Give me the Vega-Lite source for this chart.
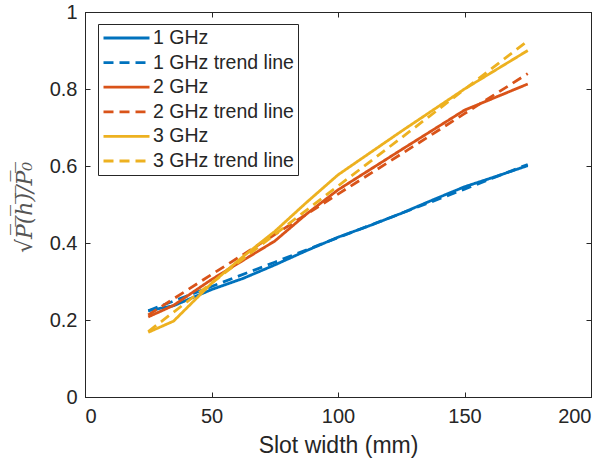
{
  "$schema": "https://vega.github.io/schema/vega-lite/v6.json",
  "width": 506,
  "height": 385,
  "autosize": "none",
  "padding": {"left": 85, "top": 12, "right": 20, "bottom": 69},
  "background": "white",
  "config": {
    "view": {"stroke": "#262626", "strokeWidth": 1},
    "axis": {
      "grid": false,
      "domainColor": "#262626",
      "tickColor": "#262626",
      "labelColor": "#262626",
      "titleColor": "#262626",
      "labelFont": "Liberation Sans",
      "titleFont": "Liberation Sans",
      "labelFontSize": 20,
      "titleFontSize": 23,
      "titleFontWeight": "normal",
      "tickSize": -5,
      "labelPadding": 14
    }
  },
  "data": {
    "values": [
      {"x": 25, "y": 0.224, "s": "1 GHz"},
      {"x": 35, "y": 0.237, "s": "1 GHz"},
      {"x": 50, "y": 0.279, "s": "1 GHz"},
      {"x": 62.5, "y": 0.308, "s": "1 GHz"},
      {"x": 75, "y": 0.343, "s": "1 GHz"},
      {"x": 87.5, "y": 0.38, "s": "1 GHz"},
      {"x": 100, "y": 0.415, "s": "1 GHz"},
      {"x": 112.5, "y": 0.445, "s": "1 GHz"},
      {"x": 125, "y": 0.477, "s": "1 GHz"},
      {"x": 137.5, "y": 0.512, "s": "1 GHz"},
      {"x": 150, "y": 0.546, "s": "1 GHz"},
      {"x": 162.5, "y": 0.573, "s": "1 GHz"},
      {"x": 175, "y": 0.601, "s": "1 GHz"},
      {"x": 25, "y": 0.224, "s": "1 GHz trend line"},
      {"x": 50, "y": 0.287, "s": "1 GHz trend line"},
      {"x": 75, "y": 0.35, "s": "1 GHz trend line"},
      {"x": 100, "y": 0.414, "s": "1 GHz trend line"},
      {"x": 125, "y": 0.477, "s": "1 GHz trend line"},
      {"x": 150, "y": 0.54, "s": "1 GHz trend line"},
      {"x": 175, "y": 0.604, "s": "1 GHz trend line"},
      {"x": 25, "y": 0.208, "s": "2 GHz"},
      {"x": 35, "y": 0.238, "s": "2 GHz"},
      {"x": 50, "y": 0.305, "s": "2 GHz"},
      {"x": 62.5, "y": 0.355, "s": "2 GHz"},
      {"x": 75, "y": 0.405, "s": "2 GHz"},
      {"x": 87.5, "y": 0.475, "s": "2 GHz"},
      {"x": 100, "y": 0.538, "s": "2 GHz"},
      {"x": 125, "y": 0.642, "s": "2 GHz"},
      {"x": 150, "y": 0.745, "s": "2 GHz"},
      {"x": 175, "y": 0.813, "s": "2 GHz"},
      {"x": 25, "y": 0.213, "s": "2 GHz trend line"},
      {"x": 50, "y": 0.318, "s": "2 GHz trend line"},
      {"x": 75, "y": 0.422, "s": "2 GHz trend line"},
      {"x": 100, "y": 0.527, "s": "2 GHz trend line"},
      {"x": 125, "y": 0.631, "s": "2 GHz trend line"},
      {"x": 150, "y": 0.736, "s": "2 GHz trend line"},
      {"x": 175, "y": 0.84, "s": "2 GHz trend line"},
      {"x": 25, "y": 0.168, "s": "3 GHz"},
      {"x": 35, "y": 0.197, "s": "3 GHz"},
      {"x": 50, "y": 0.295, "s": "3 GHz"},
      {"x": 62.5, "y": 0.365, "s": "3 GHz"},
      {"x": 75, "y": 0.43, "s": "3 GHz"},
      {"x": 87.5, "y": 0.505, "s": "3 GHz"},
      {"x": 100, "y": 0.577, "s": "3 GHz"},
      {"x": 125, "y": 0.69, "s": "3 GHz"},
      {"x": 150, "y": 0.8, "s": "3 GHz"},
      {"x": 175, "y": 0.9, "s": "3 GHz"},
      {"x": 25, "y": 0.17, "s": "3 GHz trend line"},
      {"x": 50, "y": 0.296, "s": "3 GHz trend line"},
      {"x": 75, "y": 0.422, "s": "3 GHz trend line"},
      {"x": 100, "y": 0.548, "s": "3 GHz trend line"},
      {"x": 125, "y": 0.673, "s": "3 GHz trend line"},
      {"x": 150, "y": 0.799, "s": "3 GHz trend line"},
      {"x": 175, "y": 0.925, "s": "3 GHz trend line"}
    ]
  },
  "layer": [
    {
      "mark": {"type": "line", "strokeWidth": 2.8, "clip": true},
      "encoding": {
        "x": {
          "field": "x", "type": "quantitative",
          "scale": {"domain": [0, 200], "nice": false, "zero": false},
          "axis": {"values": [0, 50, 100, 150, 200], "title": "Slot width (mm)", "titlePadding": 8}
        },
        "y": {
          "field": "y", "type": "quantitative",
          "scale": {"domain": [0, 1], "nice": false},
          "axis": {
            "values": [0, 0.2, 0.4, 0.6, 0.8, 1],
            "format": "~g",
            "title": "√P̅(̅h̅)̅/̅P̅₀̅",
            "titleFont": "DejaVu Serif",
            "titleFontStyle": "italic",
            "titleFontSize": 22,
            "titleColor": "#555555",
            "titleAngle": -90,
            "titleX": -61,
            "titleY": 195,
            "titleAlign": "center",
            "titleBaseline": "middle",
            "labelPadding": 13
          }
        },
        "color": {
          "field": "s", "type": "nominal",
          "scale": {
            "domain": ["1 GHz", "1 GHz trend line", "2 GHz", "2 GHz trend line", "3 GHz", "3 GHz trend line"],
            "range": ["#0072BD", "#0072BD", "#D95319", "#D95319", "#EDB120", "#EDB120"]
          },
          "legend": {
            "title": null,
            "orient": "none",
            "legendX": 13,
            "legendY": 12,
            "symbolType": "stroke",
            "symbolSize": 2116,
            "symbolStrokeWidth": 2.8,
            "clipHeight": 20,
            "rowPadding": 4.6,
            "labelFont": "Liberation Sans",
            "labelFontSize": 19.5,
            "labelColor": "#262626",
            "labelOffset": 2,
            "labelLimit": 300,
            "padding": 4,
            "strokeColor": "#262626",
            "fillColor": "white"
          }
        },
        "strokeDash": {
          "field": "s", "type": "nominal",
          "scale": {
            "domain": ["1 GHz", "1 GHz trend line", "2 GHz", "2 GHz trend line", "3 GHz", "3 GHz trend line"],
            "range": [[1, 0], [10, 6], [1, 0], [10, 6], [1, 0], [10, 6]]
          },
          "legend": null
        }
      }
    },
    {
      "mark": {"type": "line", "opacity": 0},
      "encoding": {
        "x": {
          "field": "x", "type": "quantitative",
          "scale": {"domain": [0, 200], "nice": false, "zero": false},
          "axis": {"orient": "top", "values": [0, 50, 100, 150, 200], "labels": false, "title": null}
        },
        "y": {
          "field": "y", "type": "quantitative",
          "scale": {"domain": [0, 1], "nice": false},
          "axis": {"orient": "right", "values": [0, 0.2, 0.4, 0.6, 0.8, 1], "labels": false, "title": null}
        },
        "detail": {"field": "s", "type": "nominal"}
      }
    }
  ],
  "resolve": {"axis": {"x": "independent", "y": "independent"}}
}
